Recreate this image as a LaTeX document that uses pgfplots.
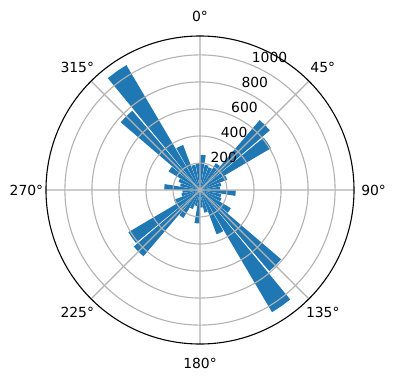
\documentclass[border=0pt]{standalone}
\usepackage{pgfplots}
\pgfplotsset{compat=1.18}
\usepackage{pgfplotstable}
\usepgfplotslibrary{polar}
\usepackage{fontspec}
\setmainfont{DejaVu Sans}
\definecolor{barblue}{HTML}{1F77B4}
% compass angle (clockwise from north, degrees) and count
\pgfplotstableread{
angle r
5 260
15 190
25 180
35 230
45 680
55 610
65 215
75 160
85 150
95 265
105 160
115 170
125 265
135 790
145 1050
155 350
165 170
175 130
185 248
195 120
205 150
215 240
225 645
235 615
245 205
255 140
265 130
275 265
285 150
295 170
305 270
315 772
325 1073
335 356
345 190
355 200
}\winddata

\begin{document}
\begin{tikzpicture}[x=1pt,y=1pt, lbl/.style={font=\fontsize{13.9}{16}\selectfont, inner sep=0pt}]
\path[use as bounding box] (-200,-190) rectangle (196,190);
\begin{polaraxis}[
  at={(0,0)}, anchor=origin,
  scale only axis, width=308pt, height=308pt,
  xmin=0, xmax=360, ymin=0, ymax=1140,
  enlargelimits=false,
  xtick={0,45,...,315}, ytick={200,400,600,800,1000},
  xticklabels={}, yticklabels={},
  grid=major, major grid style={color=gray!60, line width=1.1pt},
  major tick length=0pt,
  axis line style={black, line width=1.1pt},
  y axis line style={draw=none},
  axis on top, clip=false,
]
\pgfplotstablegetrowsof{\winddata}
\pgfmathtruncatemacro\N{\pgfplotsretval-1}
\pgfplotsforeachungrouped \i in {0,...,\N}{%
  \pgfplotstablegetelem{\i}{angle}\of\winddata
  \pgfmathsetmacro\ca{\pgfplotsretval}%
  \pgfplotstablegetelem{\i}{r}\of\winddata
  \pgfmathsetmacro\rr{\pgfplotsretval}%
  \pgfmathsetmacro\md{mod(450-\ca,360)}%
  \pgfmathsetmacro\lo{\md-4.5}%
  \pgfmathsetmacro\hi{\md+4.5}%
  \edef\temp{\noexpand\addplot[fill=barblue, draw=none] coordinates {(\lo,0) (\lo,\rr) (\md,\rr) (\hi,\rr) (\hi,0)};}%
  \temp
}
% angular labels (compass angles)
\node[lbl, anchor=center] at (axis cs:90,1285) {0°};
\node[lbl, anchor=center] at (axis cs:45,1285) {45°};
\node[lbl, anchor=center] at (axis cs:0,1285) {90°};
\node[lbl, anchor=center] at (axis cs:315,1285) {135°};
\node[lbl, anchor=center] at (axis cs:270,1285) {180°};
\node[lbl, anchor=center] at (axis cs:225,1285) {225°};
\node[lbl, anchor=center] at (axis cs:180,1285) {270°};
\node[lbl, anchor=center] at (axis cs:135,1285) {315°};
% radial labels
\node[lbl, anchor=south west, yshift=2.5pt] at (axis cs:67.5,200) {200};
\node[lbl, anchor=south west, yshift=2.5pt] at (axis cs:67.5,400) {400};
\node[lbl, anchor=south west, yshift=2.5pt] at (axis cs:67.5,600) {600};
\node[lbl, anchor=south west, yshift=2.5pt] at (axis cs:67.5,800) {800};
\node[lbl, anchor=south west, yshift=2.5pt] at (axis cs:67.5,1000) {1000};
\end{polaraxis}
\end{tikzpicture}
\end{document}
